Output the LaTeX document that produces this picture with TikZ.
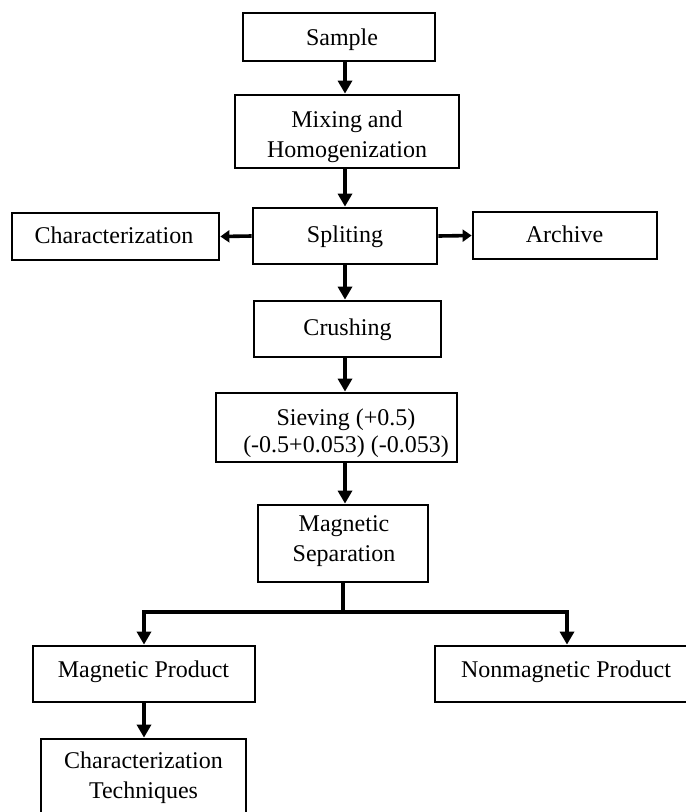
\documentclass[tikz,border=0pt]{standalone}
\usepackage{fontspec}
\setmainfont{Liberation Serif}
\usetikzlibrary{arrows.meta}
\begin{document}
\begin{tikzpicture}[x=1pt,y=-1pt,
  box/.style={draw, line width=2.8pt, inner sep=0pt, rectangle},
  txt/.style={inner sep=0pt, anchor=base, font=\fontsize{24}{30}\selectfont},
  txtm/.style={inner sep=0pt, align=center, anchor=north, font=\fontsize{24}{30}\selectfont},
  arr/.style={line width=3.6pt, -{Triangle[width=14pt,length=13pt]}},
  sarr/.style={line width=3.6pt, -{Triangle[width=12pt,length=9pt]}}]
\fill[white] (0,0) rectangle (686,812);
\useasboundingbox (0,0) rectangle (686,812);
% boxes
\node[box, minimum width=192pt, minimum height=48pt] (sample) at (339,37) {};
\node[box, minimum width=224pt, minimum height=73pt] (mix) at (347,131.5) {};
\node[box, minimum width=184pt, minimum height=56pt] (split) at (345,236) {};
\node[box, minimum width=207pt, minimum height=47pt] (char) at (115.5,236.5) {};
\node[box, minimum width=184pt, minimum height=47pt] (archive) at (565,235.5) {};
\node[box, minimum width=187pt, minimum height=56pt] (crush) at (347.5,329) {};
\node[box, minimum width=241pt, minimum height=69pt] (sieve) at (336.5,427.5) {};
\node[box, minimum width=170pt, minimum height=77pt] (magsep) at (343,543.5) {};
\node[box, minimum width=222pt, minimum height=56pt] (magprod) at (144,674) {};
\node[box, minimum width=264pt, minimum height=56pt] (nonmag) at (567,674) {};
\node[box, minimum width=205pt, minimum height=91pt] (tech) at (143.5,784.5) {};
% texts
\node[txt] (tsample) at (342,45) {Sample};
\node[txtm] (tmix) at (347,110.6) {Mixing and\\Homogenization};
\node[txt] (tsplit) at (345,242) {Spliting};
\node[txt] (tchar) at (114,243) {Characterization};
\node[txt] (tarchive) at (564.5,242) {Archive};
\node[txt] (tcrush) at (347.5,335) {Crushing};
\node[txtm, font=\fontsize{24}{27}\selectfont] (tsieve) at (346,408.6) {Sieving (+0.5)\\(-0.5+0.053) (-0.053)};
\node[txtm] (tmagsep) at (344,515.6) {Magnetic\\Separation};
\node[txt] (tmagprod) at (143.5,677) {Magnetic Product};
\node[txt] (tnonmag) at (566,677) {Nonmagnetic Product};
\node[txtm] (ttech) at (143.5,751.6) {Characterization\\Techniques};
% connectors
\coordinate (spine) at (345,0);
\coordinate (jy) at (0,612);
\draw[arr] (sample.south -| spine) -- (mix.north -| spine);
\draw[arr] (mix.south -| spine) -- (split.north -| spine);
\draw[sarr] (split.west) -- (char.east);
\draw[sarr] (split.east) -- (archive.west);
\draw[arr] (split.south -| spine) -- (crush.north -| spine);
\draw[arr] (crush.south -| spine) -- (sieve.north -| spine);
\draw[arr] (sieve.south -| spine) -- (magsep.north -| spine);
\coordinate (j) at (magsep.south |- jy);
\draw[arr] (magsep.south) -- (j) -| (magprod.north);
\draw[arr] (j) -| (nonmag.north);
\draw[arr] (magprod.south) -- (magprod.south |- tech.north);
\end{tikzpicture}
\end{document}
